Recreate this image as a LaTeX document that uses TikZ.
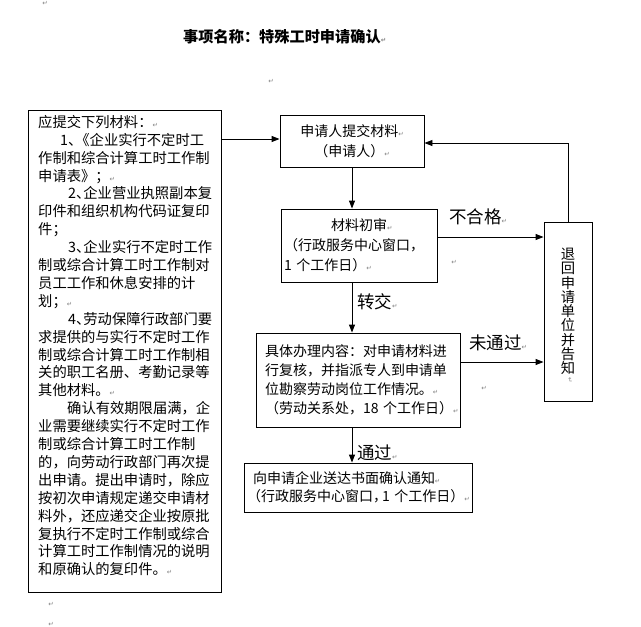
\documentclass[tikz,border=0pt]{standalone}
\usepackage{fontspec}
\setmainfont{Noto Sans CJK SC}
\newfontfamily\dv{DejaVu Sans}
\usetikzlibrary{arrows.meta}
\newcommand\rt{{\dv\fontsize{6.5}{6.5}\selectfont\textcolor{gray}{↵}}}
\newcommand\dn{、\kern-7pt}
\begin{document}
\begin{tikzpicture}[x=1pt,y=-1pt,
  box/.style={draw,line width=0.9pt,inner sep=0pt},
  arr/.style={line width=0.9pt,-{Triangle[length=8pt,width=6pt]}},
  lbl/.style={inner sep=0pt,anchor=west,font=\fontsize{17.5}{17.5}\selectfont},
  mk/.style={inner sep=0pt}]
\useasboundingbox (0,0) rectangle (641,627);

\node[anchor=west,inner sep=0pt,font=\bfseries\fontsize{15.2}{15.2}\selectfont] (title) at (183,37) {事项名称：特殊工时申请确认\rt};

\node[box,minimum width=193pt,minimum height=482pt] (mat) at (124.5,351) {};
\node[anchor=north west,inner sep=0pt,text width=185pt,align=left,font=\fontsize{14.3}{17.9}\selectfont] (mattxt) at (38,115) {%
应提交下列材料：\rt\\
\hspace*{22pt}1\dn《企业实行不定时工\\
作制和综合计算工时工作制\\
申请表》；\rt\\
\hspace*{30pt}2\dn 企业营业执照副本复\\
印件和组织机构代码证复印\\
件；\\
\hspace*{30pt}3\dn 企业实行不定时工作\\
制或综合计算工时工作制对\\
员工工作和休息安排的计\\
划；\rt\\
\hspace*{30pt}4\dn 劳动保障行政部门要\\
求提供的与实行不定时工作\\
制或综合计算工时工作制相\\
关的职工名册、考勤记录等\\
其他材料。\rt\\
\hspace*{29pt}确认有效期限届满，企\\
业需要继续实行不定时工作\\
制或综合计算工时工作制\\
的，向劳动行政部门再次提\\
出申请。提出申请时，除应\\
按初次申请规定递交申请材\\
料外，还应递交企业按原批\\
复执行不定时工作制或综合\\
计算工时工作制情况的说明\\
和原确认的复印件。\rt};

\node[box,minimum width=144pt,minimum height=52pt,align=center,font=\fontsize{14}{20}\selectfont] (b1) at (352,141) {申请人提交材料\rt\\（申请人）\rt};

\node[box,minimum width=156pt,minimum height=73pt,text width=150pt,align=left,font=\fontsize{14}{20}\selectfont] (b2) at (359,245.5) {\hspace*{47pt}材料初审\rt\\（行政服务中心窗口，\\1~个工作日）\rt};

\node[box,minimum width=204pt,minimum height=94pt,text width=186pt,align=left,font=\fontsize{14}{19}\selectfont] (b3) at (358,380) {具体办理内容：对申请材料进\\行复核，并指派专人到申请单\\位勘察劳动岗位工作情况。\rt\\（劳动关系处，18~个工作日）\rt};

\node[box,minimum width=228pt,minimum height=49pt,text width=222pt,align=left,font=\fontsize{14}{18}\selectfont] (b4) at (358,487.5) {\hspace*{6pt}向申请企业送达书面确认通知\rt\\（行政服务中心窗口，\kern-5pt 1~个工作日）\rt};

\node[box,minimum width=48pt,minimum height=179pt,align=center,font=\fontsize{14.3}{14.3}\selectfont] (r) at (568,311.5) {退\\回\\申\\请\\单\\位\\并\\告\\知};

\draw[arr] (b1.south) -- (b1.south |- b2.north);
\draw[arr] (b2.south -| b1.south) -- (b3.north -| b1.south);
\draw[arr] (b3.south -| b1.south) -- (b4.north -| b1.south);
\coordinate (p0) at ([yshift=2pt]b1.west);
\draw[arr] (p0 -| mat.east) -- (p0);
\coordinate (p1) at ([yshift=-2pt]b1.east);
\draw[arr] (r.north) |- (p1);
\coordinate (p2) at ([yshift=8.5pt]b2.east);
\draw[arr] (p2) -- (p2 -| r.west);
\coordinate (p3) at ([yshift=18pt]b3.east);
\draw[arr] (p3) -- (p3 -| r.west);

\node[lbl] (l1) at (449,217) {不合格\rt};
\node[lbl] (l2) at (469,343) {未通过\rt};
\node[lbl] (l3) at (357,302) {转交\rt};
\node[lbl] (l4) at (357,453) {通过\rt};

\node[mk] (m1) at (45,3) {\rt};
\node[mk] (m2) at (271,81) {\rt};
\node[mk] (m3) at (454,262) {\rt};
\node[mk] (m4) at (484,388) {\rt};
\node[mk] (m5) at (51,604) {\rt};
\node[mk] (m6) at (51,624) {\rt};
\node[mk,rotate=-90] (m7) at (570,380) {\rt};
\end{tikzpicture}
\end{document}
